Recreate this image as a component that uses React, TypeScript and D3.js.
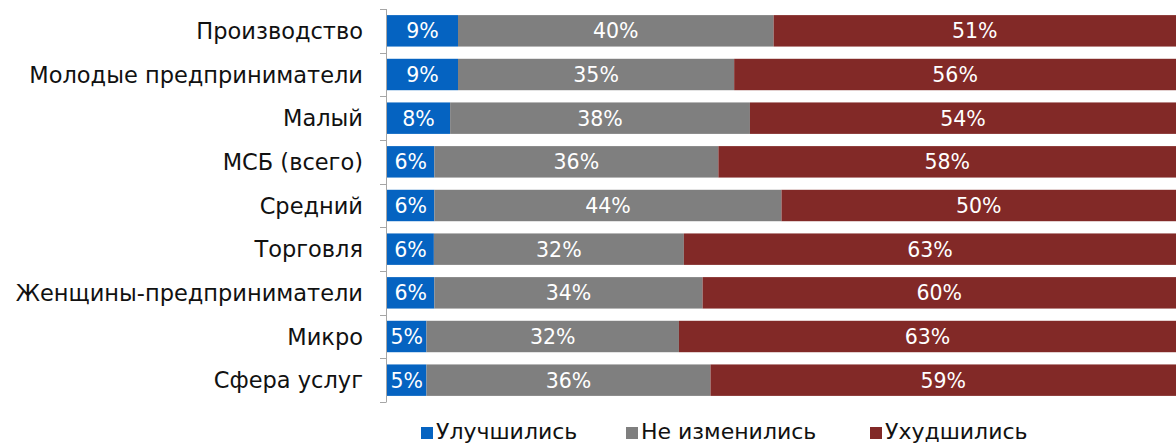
import React from "react";
import * as d3 from "d3";

const categories = [
  "Производство",
  "Молодые предприниматели",
  "Малый",
  "МСБ (всего)",
  "Средний",
  "Торговля",
  "Женщины-предприниматели",
  "Микро",
  "Сфера услуг",
];
const improved = [9, 9, 8, 6, 6, 6, 6, 5, 5];
const unchanged = [40, 35, 38, 36, 44, 32, 34, 32, 36];
const worsened = [51, 56, 54, 58, 50, 63, 60, 63, 59];
const seriesNames = ["Улучшились", "Не изменились", "Ухудшились"];
const colors = ["#0563C1", "#7F7F7F", "#822927"];

const W = 1176;
const H = 446;
const FONT = "'DejaVu Sans', sans-serif";

export default function App() {
  const left = 387;
  const right = 1176;
  const top = 9;
  const bottom = 402;
  const y = d3.scaleBand<string>().domain(categories).range([top, bottom]).paddingInner(0.28).paddingOuter(0.14);
  const series = [improved, unchanged, worsened];
  const legendX = [421, 626, 870];
  return (
    <svg width={W} height={H} style={{ position: "absolute", left: 0, top: 0 }}>
      {categories.map((c, i) => {
        const total = improved[i] + unchanged[i] + worsened[i];
        const x = d3.scaleLinear().domain([0, total]).range([left, right]);
        let acc = 0;
        return (
          <g key={c}>
            {series.map((s, k) => {
              const x0 = x(acc);
              acc += s[i];
              const x1 = x(acc);
              return (
                <g key={k}>
                  <rect x={x0} y={y(c)} width={x1 - x0} height={y.bandwidth()} fill={colors[k]} />
                  <text
                    x={(x0 + x1) / 2}
                    y={y(c)! + y.bandwidth() / 2}
                    dy="0.36em"
                    textAnchor="middle"
                    fill="#fff"
                    fontFamily={FONT}
                    fontSize={20.5}
                  >
                    {s[i]}%
                  </text>
                </g>
              );
            })}
            <text
              x={363}
              y={y(c)! + y.bandwidth() / 2}
              dy="0.36em"
              textAnchor="end"
              fill="#111"
              fontFamily={FONT}
              fontSize={22.5}
            >
              {c}
            </text>
          </g>
        );
      })}
      <line x1={386.5} x2={386.5} y1={top} y2={bottom} stroke="#A6A6A6" />
      {d3.range(categories.length + 1).map((i) => {
        const yy = Math.round(top + (i * (bottom - top)) / categories.length) + 0.5;
        return <line key={i} x1={380} x2={386.5} y1={yy} y2={yy} stroke="#A6A6A6" />;
      })}
      {seriesNames.map((n, k) => (
        <g key={n}>
          <rect x={legendX[k]} y={427} width={12} height={12} fill={colors[k]} />
          <text x={legendX[k] + 15} y={439} fill="#111" fontFamily={FONT} fontSize={22}>
            {n}
          </text>
        </g>
      ))}
    </svg>
  );
}
